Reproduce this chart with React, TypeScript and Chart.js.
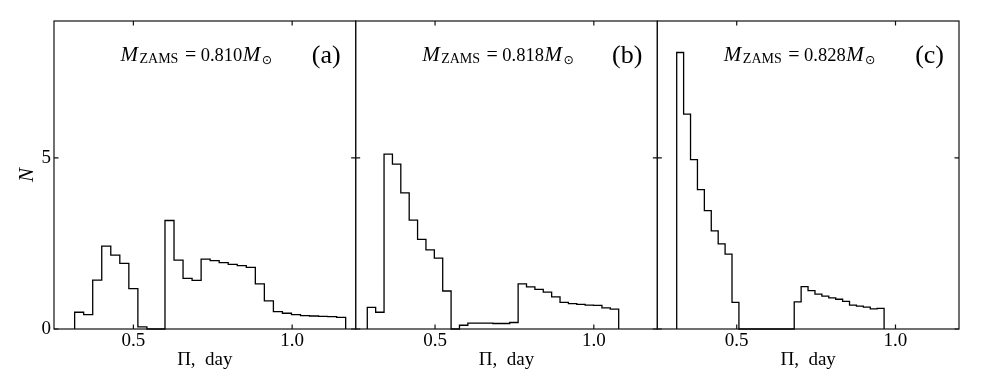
import React, { useEffect, useRef } from "react";
import { Chart, registerables } from "chart.js";

Chart.register(...registerables);

// ---- data ----
const panelIds = ["xa", "xb", "xc"];
const panelTags = ["(a)", "(b)", "(c)"];
const massLabels = ["0.810", "0.818", "0.828"];

const xTickValues = [0.5, 1.0];
const yTickValues = [0, 5];
const xRange = [0.25, 1.2];
const yRange = [0, 9];

// first bin edge and bin width for each panel
const binStarts = [0.315, 0.2866, 0.311];
const binWidths = [0.02845, 0.02639, 0.02177];

const countsA = [
  0.49, 0.42, 1.43, 2.42, 2.16, 1.92, 1.18, 0.06, 0, 0,
  3.17, 2.01, 1.48, 1.42, 2.04, 2.0, 1.94, 1.89, 1.85, 1.8,
  1.32, 0.82, 0.51, 0.46, 0.42, 0.39, 0.38, 0.37, 0.36, 0.34,
];
const countsB = [
  0.63, 0.49, 5.11, 4.82, 3.98, 3.18, 2.62, 2.31, 2.07, 1.11,
  0, 0.11, 0.17, 0.17, 0.17, 0.16, 0.16, 0.19, 1.32, 1.23,
  1.16, 1.08, 0.94, 0.78, 0.74, 0.72, 0.7, 0.69, 0.62, 0.58,
];
const countsC = [
  8.08, 6.28, 4.95, 4.07, 3.46, 2.87, 2.49, 2.19, 0.78, 0,
  0, 0, 0, 0, 0, 0, 0, 0.79, 1.24, 1.12,
  1.02, 0.96, 0.91, 0.87, 0.81, 0.7, 0.67, 0.64, 0.59, 0.6,
];
const allCounts = [countsA, countsB, countsC];

const xTitle = "Π,  day";
const yTitle = "N";

// ---- helpers ----
// points at left bin edges; stepped 'before' draws horizontally at the previous value first
function stepPoints(start: number, width: number, counts: number[]) {
  const pts: { x: number; y: number }[] = [{ x: start, y: 0 }];
  counts.forEach((c, i) => pts.push({ x: start + i * width, y: c }));
  pts.push({ x: start + counts.length * width, y: 0 });
  return pts;
}

const SERIF = '"Liberation Serif", "DejaVu Serif", serif';

const framePlugin = {
  id: "frames",
  afterDatasetsDraw(chart: any) {
    const ctx = chart.ctx;
    const { top, bottom } = chart.chartArea;
    const y = chart.scales.y;
    ctx.save();
    ctx.strokeStyle = "#111";
    ctx.lineWidth = 1.2;
    const tl = 4.5;
    panelIds.forEach((id) => {
      const s = chart.scales[id];
      ctx.strokeRect(s.left, top, s.right - s.left, bottom - top);
      ctx.beginPath();
      xTickValues.forEach((v) => {
        const px = s.getPixelForValue(v);
        ctx.moveTo(px, bottom);
        ctx.lineTo(px, bottom - tl);
        ctx.moveTo(px, top);
        ctx.lineTo(px, top + tl);
      });
      yTickValues.forEach((v) => {
        const py = y.getPixelForValue(v);
        ctx.moveTo(s.left, py);
        ctx.lineTo(s.left + tl, py);
        ctx.moveTo(s.right, py);
        ctx.lineTo(s.right - tl, py);
      });
      ctx.stroke();
    });
    ctx.restore();
  },
};

const annotPlugin = {
  id: "annot",
  afterDraw(chart: any) {
    const ctx = chart.ctx;
    ctx.save();
    ctx.fillStyle = "#000";
    ctx.textAlign = "left";
    ctx.textBaseline = "alphabetic";
    panelIds.forEach((id, i) => {
      const s = chart.scales[id];
      let x = s.left + 66.5;
      const base = 61;
      const put = (txt: string, font: string, dy: number, gapAfter: number) => {
        ctx.font = font;
        ctx.fillText(txt, x, base + dy);
        x += ctx.measureText(txt).width + gapAfter;
      };
      put("M", `italic 21px ${SERIF}`, 0, 1.5);
      put("ZAMS", `14px ${SERIF}`, 1.5, 6.5);
      put("=", `20px ${SERIF}`, 0, 4.5);
      put(massLabels[i], `18.5px ${SERIF}`, 0, 0.5);
      put("M", `italic 21px ${SERIF}`, 0, 1.5);
      put("⊙", `12.5px "DejaVu Sans"`, 3, 0);
      ctx.font = `26px ${SERIF}`;
      ctx.textAlign = "right";
      ctx.fillText(panelTags[i], s.right - 15, 63);
      ctx.textAlign = "left";
    });
    ctx.restore();
  },
};

export default function App() {
  const ref = useRef<HTMLCanvasElement>(null);
  useEffect(() => {
    if (!ref.current) return;
    const datasets = panelIds.map((id, i) => ({
      label: panelTags[i],
      data: stepPoints(binStarts[i], binWidths[i], allCounts[i]),
      xAxisID: id,
      yAxisID: "y",
      showLine: true,
      stepped: "before" as const,
      borderColor: "#000",
      borderWidth: 1.3,
      pointRadius: 0,
      fill: false,
      clip: false as any,
    }));
    const xScale = (id: string) => ({
      type: "linear" as const,
      position: "bottom" as const,
      stack: "row",
      stackWeight: 1,
      min: xRange[0],
      max: xRange[1],
      grid: { display: false, drawTicks: false },
      border: { display: false },
      afterBuildTicks: (s: any) => {
        s.ticks = xTickValues.map((v) => ({ value: v }));
      },
      afterFit: (s: any) => {
        s.height = 63;
      },
      ticks: {
        autoSkip: false,
        maxRotation: 0,
        padding: 1,
        color: "#000",
        font: { family: SERIF, size: 19 },
        callback: (v: any) => Number(v).toFixed(1),
      },
      title: {
        display: true,
        text: xTitle,
        color: "#000",
        font: { family: SERIF, size: 19 },
        padding: { top: 0, bottom: 21 },
      },
    });
    const chart = new Chart(ref.current, {
      type: "scatter",
      data: { datasets },
      options: {
        animation: false,
        responsive: false,
        devicePixelRatio: 1,
        layout: { padding: { left: 0, right: 22, top: 21, bottom: 0 } },
        plugins: { legend: { display: false }, tooltip: { enabled: false } },
        scales: {
          xa: xScale("xa"),
          xb: xScale("xb"),
          xc: xScale("xc"),
          y: {
            type: "linear",
            position: "left",
            min: yRange[0],
            max: yRange[1],
            grid: { display: false, drawTicks: false },
            border: { display: false },
            afterBuildTicks: (s: any) => {
              s.ticks = yTickValues.map((v) => ({ value: v }));
            },
            afterFit: (s: any) => {
              s.width = 54;
            },
            ticks: {
              padding: 3,
              color: "#000",
              font: { family: SERIF, size: 19 },
            },
            title: {
              display: true,
              text: yTitle,
              color: "#000",
              font: { family: SERIF, size: 21, style: "italic" },
              padding: { top: 15, bottom: 0 },
            },
          },
        },
      },
      plugins: [framePlugin, annotPlugin],
    } as any);
    return () => chart.destroy();
  }, []);
  return (
    <div style={{ position: "absolute", left: 0, top: 0, width: 981, height: 392 }}>
      <canvas ref={ref} width={981} height={392} style={{ display: "block" }} />
    </div>
  );
}
